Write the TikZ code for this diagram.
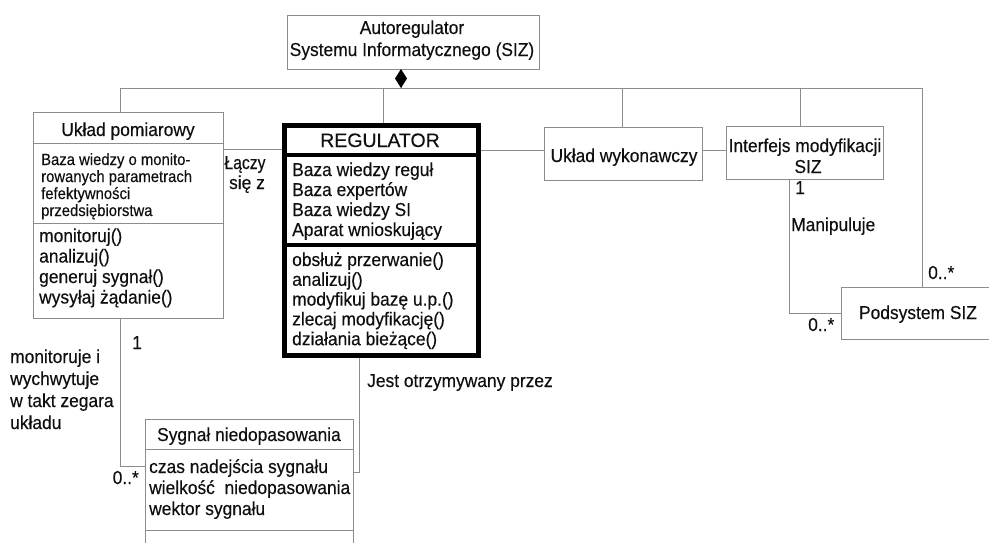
\documentclass[tikz,border=0pt]{standalone}
\usepackage{fontspec}
\setmainfont{Liberation Sans}
\newfontfamily\diagfont[FakeStretch=0.93,FakeBold=0.3]{Liberation Sans}
\newfontfamily\notefont[FakeStretch=0.91,FakeBold=0.3]{Liberation Sans}
\newfontfamily\headfont[FakeBold=0.3]{Liberation Sans}
\newfontfamily\narrowfont[FakeStretch=0.84,FakeBold=0.3]{Liberation Sans}
\usetikzlibrary{arrows.meta}
\definecolor{linegray}{RGB}{140,140,140}
\definecolor{ink}{RGB}{15,15,15}
\begin{document}
\begin{tikzpicture}[x=1pt,y=-1pt,
  conn/.style={draw=linegray, line width=1pt},
  classbox/.style={draw=linegray, line width=1pt, rectangle, inner sep=0pt, outer sep=0pt, anchor=north west},
  heavybox/.style={draw=black, line width=5pt, rectangle, inner sep=0pt, outer sep=2.5pt, anchor=north west},
  heavysep/.style={draw=black, line width=4.5pt},
  lbl/.style={inner sep=0pt, text=ink, font=\diagfont\fontsize{18.7}{21}\selectfont},
  small/.style={inner sep=0pt, text=ink, font=\notefont\fontsize{16.3}{17}\selectfont},
]
\useasboundingbox (0,0) rectangle (989,542);

% class boxes
\node[classbox, minimum width=252pt, minimum height=54pt] (top) at (287,15) {};
\node[classbox, minimum width=190pt, minimum height=206pt] (pom) at (33,112) {};
\node[heavybox, minimum width=194pt, minimum height=230pt] (reg) at (282,123) {};
\node[classbox, minimum width=158pt, minimum height=53pt] (wyk) at (544,127) {};
\node[classbox, minimum width=157pt, minimum height=53pt] (int) at (726,126) {};
\node[classbox, minimum width=155pt, minimum height=52pt] (pod) at (841,287) {};
\node[classbox, minimum width=208pt, minimum height=130pt] (syg) at (145,419) {};

% compartment separators
\draw[conn] (pom.west |- 0,143) -- (pom.east |- 0,143);
\draw[conn] (pom.west |- 0,223) -- (pom.east |- 0,223);
\draw[heavysep] (284.5,155) -- (478.5,155);
\draw[heavysep] (284.5,245) -- (478.5,245);
\draw[conn] (syg.west |- 0,449) -- (syg.east |- 0,449);
\draw[conn] (syg.west |- 0,530) -- (syg.east |- 0,530);

% composition tree
\coordinate (busL) at (120,88);
\coordinate (busR) at (922,88);
\coordinate (compo) at (401,88);
\coordinate (dropReg) at (383,88);
\coordinate (dropWyk) at (622,88);
\coordinate (dropInt) at (800,88);
\draw[conn] (pom.north -| busL) -- (busL) -- (busR) -- (pod.north -| busR);
\draw[conn] (dropReg) -- (reg.north -| dropReg);
\draw[conn] (dropWyk) -- (wyk.north -| dropWyk);
\draw[conn] (dropInt) -- (int.north -| dropInt);
\draw[conn, -{Diamond[length=19pt,width=12pt,fill=black,color=black]}] (compo) -- (top.south -| compo);

% associations
\coordinate (asc1) at (0,149);
\coordinate (asc2) at (0,150);
\draw[conn] (pom.east |- asc1) -- (reg.west |- asc1);
\draw[conn] (reg.east |- asc2) -- (wyk.west |- asc2);
\draw[conn] (wyk.east |- asc2) -- (int.west |- asc2);
\coordinate (mon) at (120,466);
\draw[conn] (pom.south -| mon) -- (mon) -- (syg.west |- mon);
\coordinate (rcv) at (359,472);
\draw[conn] (reg.south -| rcv) -- (rcv) -- (syg.east |- rcv);
\coordinate (man) at (789,313);
\draw[conn] (int.south -| man) -- (man) -- (pod.west |- man);

% top class
\node[lbl, anchor=base] (topA) at (412,34) {Autoregulator};
\node[lbl, anchor=base] (topB) at (412,56) {Systemu Informatycznego (SIZ)};

% measuring unit
\node[lbl, anchor=base] (pomT) at (128,136) {Układ pomiarowy};
\node[small, anchor=base west] (pomA1) at (41,165) {Baza wiedzy o monito-};
\node[small, anchor=base west] (pomA2) at (41,182) {rowanych parametrach};
\node[small, anchor=base west] (pomA3) at (41,199) {fefektywności};
\node[small, anchor=base west] (pomA4) at (41,216) {przedsiębiorstwa};
\node[lbl, anchor=base west] (pomO1) at (39,242) {monitoruj()};
\node[lbl, anchor=base west] (pomO2) at (39,262.5) {analizuj()};
\node[lbl, anchor=base west] (pomO3) at (39,283) {generuj sygnał()};
\node[lbl, anchor=base west] (pomO4) at (39,303.5) {wysyłaj żądanie()};

% regulator
\node[lbl, font=\headfont\fontsize{19.5}{21}\selectfont, anchor=base] (regT) at (380,147) {REGULATOR};
\node[lbl, anchor=base west] (regA1) at (292,176) {Baza wiedzy reguł};
\node[lbl, anchor=base west] (regA2) at (292,196) {Baza expertów};
\node[lbl, anchor=base west] (regA3) at (292,216) {Baza wiedzy SI};
\node[lbl, anchor=base west] (regA4) at (292,236) {Aparat wnioskujący};
\node[lbl, anchor=base west] (regO1) at (292,266) {obsłuż przerwanie()};
\node[lbl, anchor=base west] (regO2) at (292,285.8) {analizuj()};
\node[lbl, anchor=base west] (regO3) at (292,305.6) {modyfikuj bazę u.p.()};
\node[lbl, anchor=base west] (regO4) at (292,325.4) {zlecaj modyfikację()};
\node[lbl, anchor=base west] (regO5) at (292,345.2) {działania bieżące()};

% executive unit and interface
\node[lbl, anchor=base] (wykT) at (624,162) {Układ wykonawczy};
\node[lbl, anchor=base] (intT1) at (805,152) {Interfejs modyfikacji};
\node[lbl, anchor=base] (intT2) at (808,173) {SIZ};
\node[lbl, anchor=base] (podT) at (918,319) {Podsystem SIZ};

% signal class
\node[lbl, anchor=base] (sygT) at (249,441) {Sygnał niedopasowania};
\node[lbl, anchor=base west] (sygA1) at (149,473) {czas nadejścia sygnału};
\node[lbl, anchor=base west] (sygA2) at (149,494) {wielkość\ \ niedopasowania};
\node[lbl, anchor=base west] (sygA3) at (149,515) {wektor sygnału};

% association labels and multiplicities
\node[lbl, font=\narrowfont\fontsize{18.7}{21}\selectfont, anchor=base] (lacz1) at (245,169) {Łączy};
\node[lbl, anchor=base] (lacz2) at (247,189) {się z};
\node[lbl, anchor=base west] (m1) at (132,349) {1};
\node[lbl, anchor=base west] (monA) at (10,363) {monitoruje i};
\node[lbl, anchor=base west] (monB) at (10,385) {wychwytuje};
\node[lbl, anchor=base west] (monC) at (10,407) {w takt zegara};
\node[lbl, anchor=base west] (monD) at (10,429) {układu};
\node[lbl, anchor=base east] (m2) at (139,484) {0..*};
\node[lbl, anchor=base west] (rcvT) at (367,387) {Jest otrzymywany przez};
\node[lbl, anchor=base west] (m3) at (795,194) {1};
\node[lbl, anchor=base west] (manT) at (791,231) {Manipuluje};
\node[lbl, anchor=base west] (m4) at (928,279) {0..*};
\node[lbl, anchor=base west] (m5) at (808,331) {0..*};
\end{tikzpicture}
\end{document}
